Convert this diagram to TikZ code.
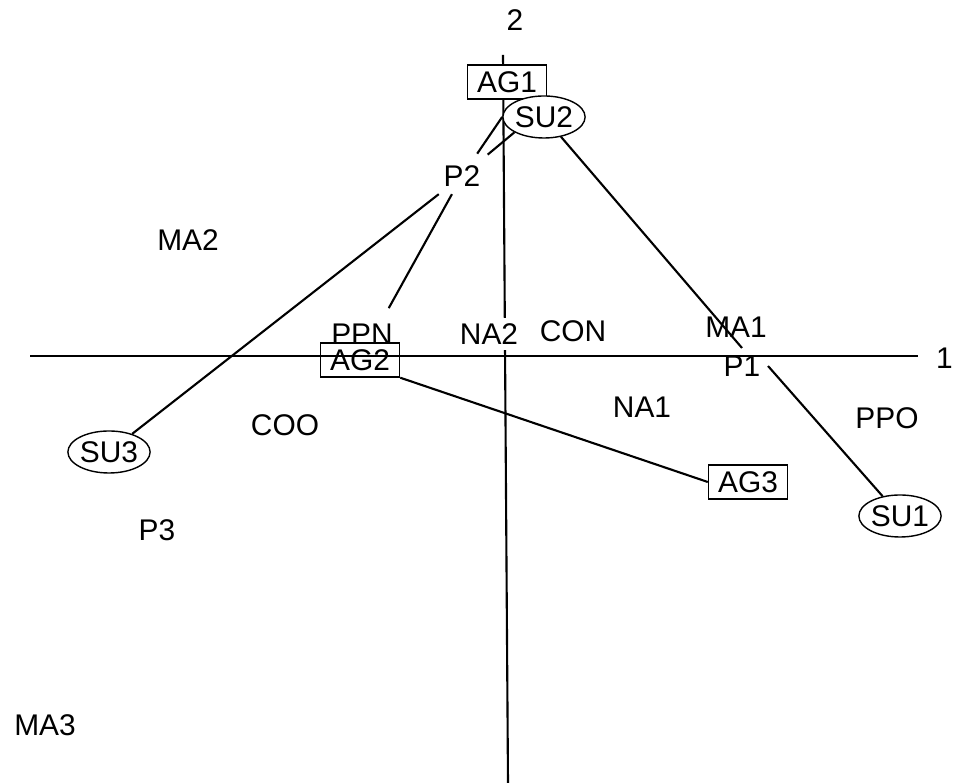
\documentclass[tikz,border=0pt]{standalone}
\usepackage{fontspec}
\setmainfont{Liberation Sans}
\usetikzlibrary{shapes.geometric}
\tikzset{
  agbox/.style={rectangle, draw, fill=white, inner sep=0pt, minimum width=0.79cm, minimum height=0.34cm},
  suell/.style={ellipse, draw, fill=white, inner sep=0pt, minimum width=0.78cm, minimum height=0.42cm},
  lab/.style={inner sep=2pt},
  link/.style={line width=0.6pt},
  ax/.style={line width=0.6pt},
}
\begin{document}
\begin{tikzpicture}[x=0.01cm, y=-0.01cm, font=\fontsize{8.5}{10}\selectfont]
  \useasboundingbox (0,0) rectangle (957,783);
  \coordinate (xl) at (30,356);
  \coordinate (xr) at (918,356);
  \coordinate (yt) at (503,55);
  \coordinate (yb) at (508,783);
  \draw[ax] (xl) -- (xr);
  \draw[ax] (yt) -- (yb);
  \node[inner sep=1pt, anchor=east] (n1) at (957,358) {1};
  \node[lab] (n2) at (515,20) {2};
  \node[agbox] (AG1) at (507,82) {AG1};
  \node[suell] (SU2) at (544,117) {SU2};
  \node[agbox, fill=none] (AG2) at (360,360) {AG2};
  \node[agbox] (AG3) at (748,482) {AG3};
  \node[suell] (SU1) at (900,516) {SU1};
  \node[suell] (SU3) at (109,452) {SU3};
  \node[lab] (P1) at (742,366) {P1};
  \node[lab] (P2) at (462,176) {P2};
  \node[lab] (P3) at (157,530) {P3};
  \node[lab] (MA1) at (736,327) {MA1};
  \node[lab] (MA2) at (188,240) {MA2};
  \node[lab] (MA3) at (45,725) {MA3};
  \node[lab] (NA1) at (642,407) {NA1};
  \node[lab, inner ysep=1.5pt, fill=white] (NA2) at (489,334) {NA2};
  \node[lab] (PPN) at (362,334) {PPN};
  \node[lab] (PPO) at (887,418) {PPO};
  \node[lab] (CON) at (573,331) {CON};
  \node[lab] (COO) at (285,425) {COO};
  \draw[link, shorten <=0.5mm] (P2) -- (SU2.west);
  \draw[link, shorten <=0.5mm] (P2) -- (SU2.south west);
  \draw[link] (P2) -- (SU3);
  \draw[link, shorten >=3.9mm] (P2) -- (AG2);
  \draw[link] (AG2.south east) -- (AG3.west);
  \draw[link] (SU2) -- (P1.north);
  \draw[link] (P1.east) -- (SU1);
\end{tikzpicture}
\end{document}
